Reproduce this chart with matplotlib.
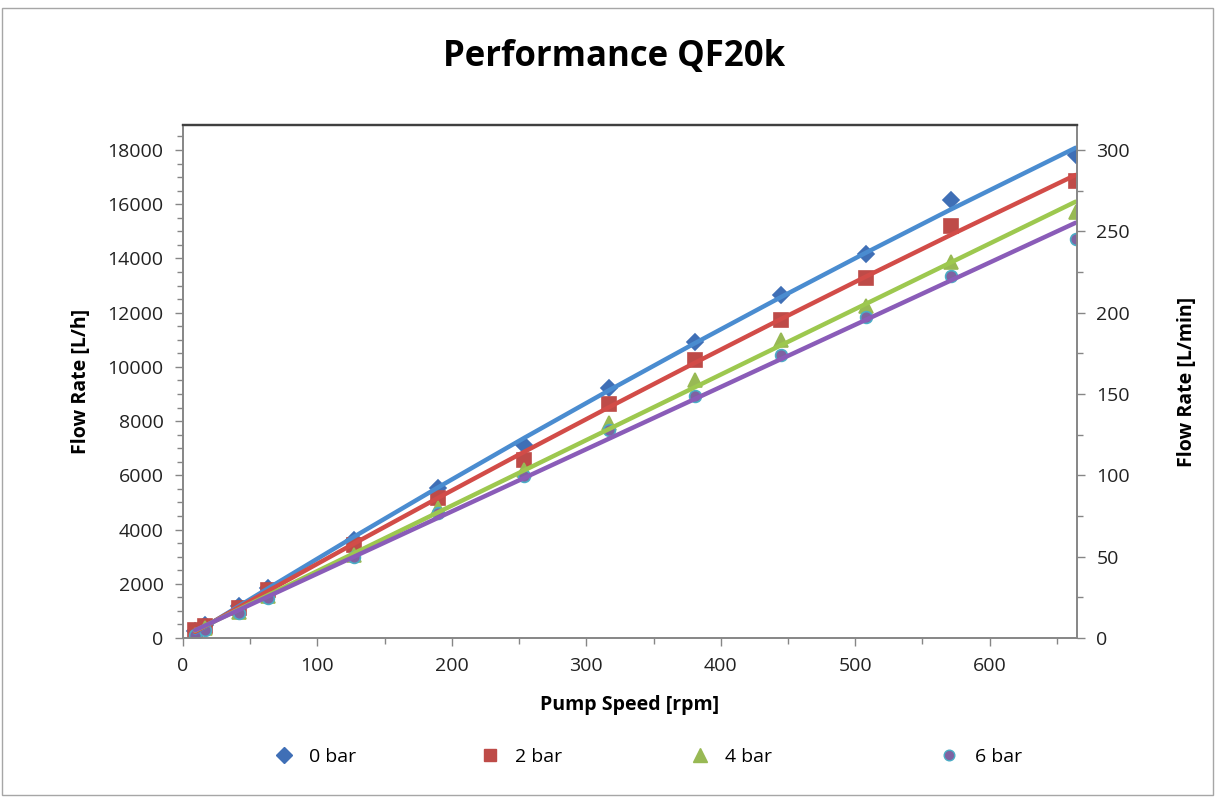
#!/usr/bin/env python3
import numpy as np
import matplotlib.pyplot as plt
from matplotlib.patches import Rectangle
from matplotlib.ticker import MultipleLocator
from matplotlib.lines import Line2D

# pump speed [rpm]
speed = [9, 16, 42, 63, 127, 190, 254, 317, 381, 445, 508, 571, 664]

# flow rate [L/h] per back pressure
flow_0bar = [250, 480, 1180, 1840, 3620, 5530, 7120, 9220, 10920, 12650, 14170, 16160, 17820]
flow_2bar = [300, 440, 1110, 1770, 3430, 5160, 6570, 8630, 10260, 11730, 13280, 15200, 16860]
flow_4bar = [110, 370, 960, 1550, 3060, 4800, 6200, 7930, 9520, 10990, 12250, 13870, 15720]
flow_6bar = [110, 300, 920, 1480, 2990, 4610, 5980, 7670, 8930, 10440, 11840, 13350, 14720]

labels = ["0 bar", "2 bar", "4 bar", "6 bar"]
trend_order = [2, 2, 1, 1]

plt.rcParams["font.family"] = ["Open Sans", "DejaVu Sans"]

fig = plt.figure(figsize=(12.18, 7.98), dpi=100)
fig.patches.append(Rectangle((0.002, 0.004), 0.994, 0.986, transform=fig.transFigure,
                             fill=False, edgecolor="#a6a6a6", linewidth=1.0))

ax = fig.add_axes([183 / 1218, 1 - 638 / 798, (1077 - 183) / 1218, (638 - 125) / 798])

series = [flow_0bar, flow_2bar, flow_4bar, flow_6bar]
mcolors = ["#3f6fb6", "#be4b48", "#98b954", "#7f62a1"]
medges = ["#3f6fb6", "#be4b48", "#98b954", "#4bacc6"]
lcolors = ["#4a8cd0", "#d24c48", "#9dc84f", "#8a5cb8"]
markers = ["D", "s", "^", "o"]
msizes = [8.5, 9.5, 10.5, 8.5]

x = np.array(speed, dtype=float)
for y, order, mc, me, lc, m, ms in zip(series, trend_order, mcolors, medges, lcolors, markers, msizes):
    ax.plot(x, y, linestyle="none", marker=m, markersize=ms,
            markerfacecolor=mc, markeredgecolor=me, markeredgewidth=1.2, zorder=2)
    # trendline, drawn through the fitted values
    c = np.polyfit(x, y, order)
    ax.plot(x, np.polyval(c, x), color=lc, linewidth=3.2, zorder=3,
            solid_capstyle="round", solid_joinstyle="round")

ax.set_xlim(0, 665)
ax.set_ylim(0, 18920)
ax.xaxis.set_major_locator(MultipleLocator(100))
ax.xaxis.set_minor_locator(MultipleLocator(50))
ax.yaxis.set_major_locator(MultipleLocator(2000))
ax.yaxis.set_minor_locator(MultipleLocator(500))

ax2 = ax.twinx()
ax2.set_ylim(0, 18920 / 60)
ax2.yaxis.set_major_locator(MultipleLocator(50))
ax2.yaxis.set_minor_locator(MultipleLocator(25))

for a in (ax, ax2):
    for s in a.spines.values():
        s.set_color("#868686")
        s.set_linewidth(1.2)
    a.spines["top"].set_color("#404040")
    a.spines["top"].set_linewidth(1.6)
    a.tick_params(which="both", direction="out", color="#868686", width=1.0,
                  labelsize=14, labelcolor="#222222")
    a.tick_params(which="major", length=6, pad=8)
    a.tick_params(which="minor", length=4)

ax.set_xlabel("Pump Speed [rpm]", fontsize=14, fontweight="bold", labelpad=14)
ax.set_ylabel("Flow Rate [L/h]", fontsize=14, fontweight="bold", labelpad=12)
ax2.set_ylabel("Flow Rate [L/min]", fontsize=14, fontweight="bold", labelpad=34)

fig.text(0.504, 0.928, "Performance QF20k", ha="center", va="center",
         fontsize=25, fontweight="bold")

# legend entries placed one by one, as in the reference
leg_x = [0.211, 0.380, 0.552, 0.757]
for h_x, lab, m, ms, mc, me in zip(leg_x, labels, markers, msizes, mcolors, medges):
    h = Line2D([], [], linestyle="none", marker=m, markersize=ms * 0.9,
               markerfacecolor=mc, markeredgecolor=me)
    fig.legend([h], [lab], loc="center left", bbox_to_anchor=(h_x, 0.051),
               frameon=False, fontsize=14, handletextpad=0.3, borderaxespad=0)

fig.savefig("out.png", dpi=100)
